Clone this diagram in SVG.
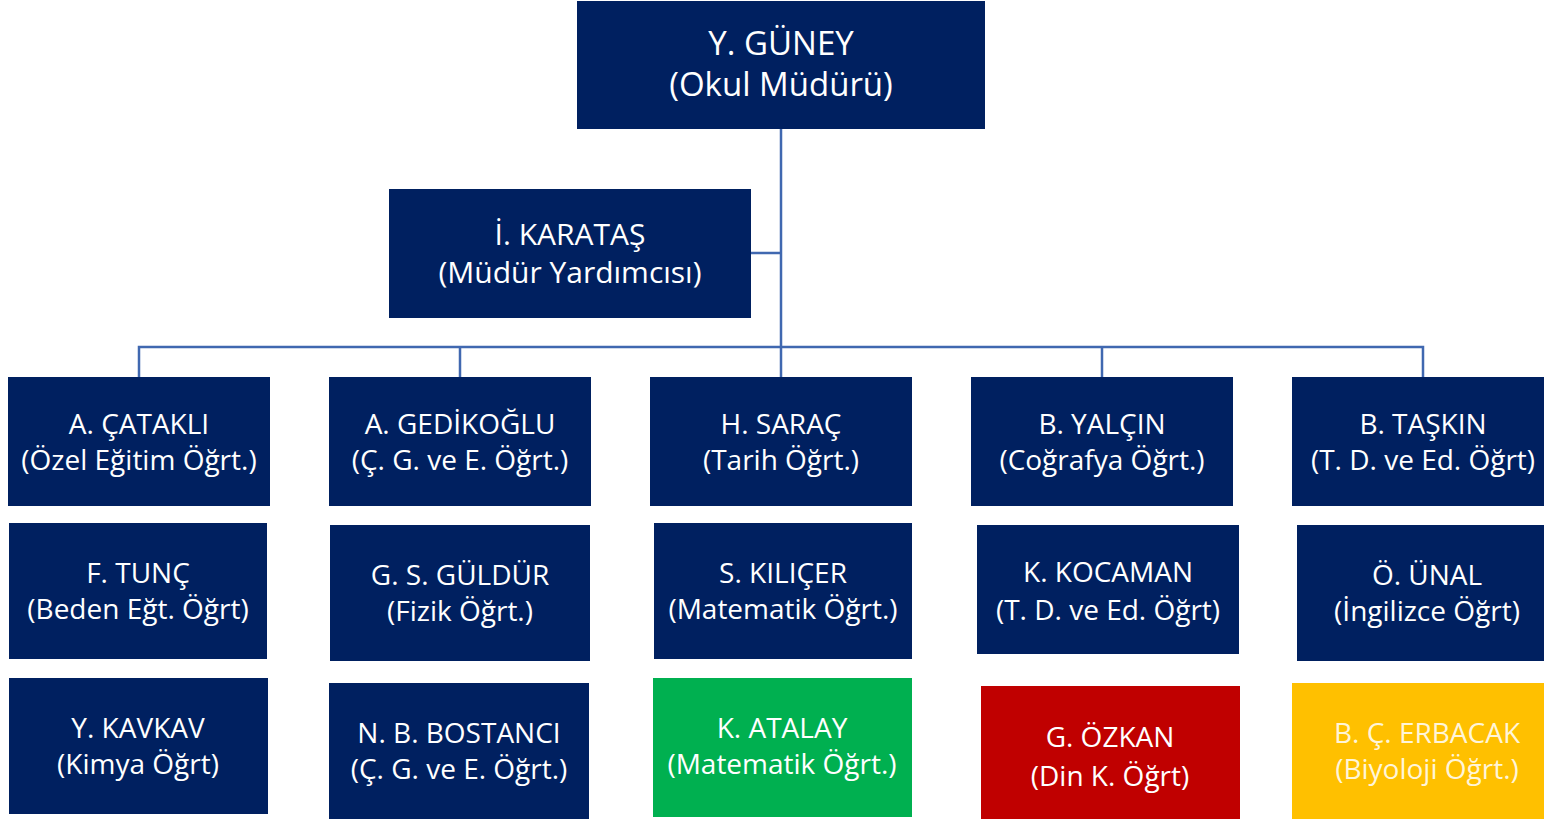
<svg xmlns="http://www.w3.org/2000/svg" width="1544" height="819" viewBox="0 0 1544 819">
<style>
.b{fill:#002060}
.g{fill:#00b050}
.r{fill:#c00000}
.y{fill:#ffc000}
text{font-family:"Open Sans","Noto Sans",sans-serif;font-size:28px;fill:#ffffff;text-anchor:middle}
.big{font-size:30px}
.top{font-size:33px}
.yt{fill:#fff5d9}
.c{stroke:#4068b0;stroke-width:2.5;fill:none}
</style>
<rect width="1544" height="819" fill="#ffffff"/>
<g id="connectors">
<path class="c" d="M781 129V347M751 253H781M139 377V347H1423V377M460 347V377M781 347V377M1102 347V377"/>
</g>
<g id="n-guney"><rect class="b" x="577" y="1" width="408" height="128"/><text class="top" x="781" y="55">Y. GÜNEY</text><text class="top" x="781" y="96">(Okul Müdürü)</text></g>
<g id="n-karatas"><rect class="b" x="389" y="189" width="362" height="129"/><text class="big" x="570" y="245">İ. KARATAŞ</text><text class="big" x="570" y="283">(Müdür Yardımcısı)</text></g>
<g id="n-catakli"><rect class="b" x="8" y="377" width="262" height="129"/><text x="139" y="434">A. ÇATAKLI</text><text x="139" y="470">(Özel Eğitim Öğrt.)</text></g>
<g id="n-gedikoglu"><rect class="b" x="329" y="377" width="262" height="129"/><text x="460" y="434">A. GEDİKOĞLU</text><text x="460" y="470">(Ç. G. ve E. Öğrt.)</text></g>
<g id="n-sarac"><rect class="b" x="650" y="377" width="262" height="129"/><text x="781" y="434">H. SARAÇ</text><text x="781" y="470">(Tarih Öğrt.)</text></g>
<g id="n-yalcin"><rect class="b" x="971" y="377" width="262" height="129"/><text x="1102" y="434">B. YALÇIN</text><text x="1102" y="470">(Coğrafya Öğrt.)</text></g>
<g id="n-taskin"><rect class="b" x="1292" y="377" width="252" height="129"/><text x="1423" y="434">B. TAŞKIN</text><text x="1423" y="470">(T. D. ve Ed. Öğrt)</text></g>
<g id="n-tunc"><rect class="b" x="9" y="523" width="258" height="136"/><text x="138" y="583">F. TUNÇ</text><text x="138" y="619">(Beden Eğt. Öğrt)</text></g>
<g id="n-guldur"><rect class="b" x="330" y="525" width="260" height="136"/><text x="460" y="585">G. S. GÜLDÜR</text><text x="460" y="621">(Fizik Öğrt.)</text></g>
<g id="n-kilicer"><rect class="b" x="654" y="523" width="258" height="136"/><text x="783" y="583">S. KILIÇER</text><text x="783" y="619">(Matematik Öğrt.)</text></g>
<g id="n-kocaman"><rect class="b" x="977" y="525" width="262" height="129"/><text x="1108" y="582">K. KOCAMAN</text><text x="1108" y="620">(T. D. ve Ed. Öğrt)</text></g>
<g id="n-unal"><rect class="b" x="1297" y="525" width="247" height="136"/><text x="1427" y="585">Ö. ÜNAL</text><text x="1427" y="621">(İngilizce Öğrt)</text></g>
<g id="n-kavkav"><rect class="b" x="9" y="678" width="259" height="136"/><text x="138" y="738">Y. KAVKAV</text><text x="138" y="774">(Kimya Öğrt)</text></g>
<g id="n-bostanci"><rect class="b" x="329" y="683" width="260" height="136"/><text x="459" y="743">N. B. BOSTANCI</text><text x="459" y="779">(Ç. G. ve E. Öğrt.)</text></g>
<g id="n-atalay"><rect class="g" x="653" y="678" width="259" height="139"/><text x="782" y="738">K. ATALAY</text><text x="782" y="774">(Matematik Öğrt.)</text></g>
<g id="n-ozkan"><rect class="r" x="981" y="686" width="259" height="133"/><text x="1110" y="747">G. ÖZKAN</text><text x="1110" y="786">(Din K. Öğrt)</text></g>
<g id="n-erbacak"><rect class="y" x="1292" y="683" width="252" height="136"/><text class="yt" x="1427" y="743">B. Ç. ERBACAK</text><text class="yt" x="1427" y="779">(Biyoloji Öğrt.)</text></g>
</svg>
